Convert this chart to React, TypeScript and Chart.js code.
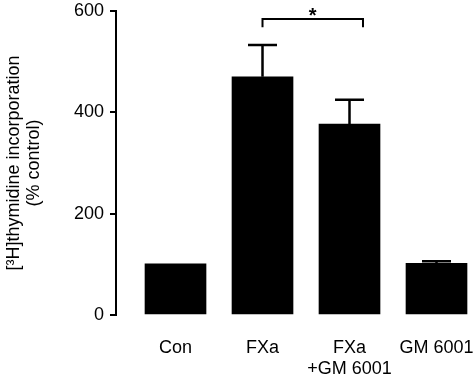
import { useEffect, useRef } from "react";
import { Chart, registerables } from "chart.js";

Chart.register(...registerables);

// ---- data ----
const categories: (string | string[])[] = ["Con", "FXa", ["FXa", "+GM 6001"], "GM 6001"];
const means = [101, 470, 377, 102];
const errors = [0, 63, 48, 4];
const yTicks = [0, 200, 400, 600];
const yTitle = ["[³H]thymidine incorporation", "(% control)"];
// significance bracket: from category position to position, at value, with drop
const bracketFrom = 2;
const bracketTo = 3.155;
const bracketValue = 584;
const bracketDropValue = 568;
const bracketLabel = "*";

const FONT = "'Liberation Sans', Arial, Helvetica, sans-serif";

const overlayPlugin = {
  id: "overlay",
  afterDatasetsDraw(chart: any) {
    const { ctx } = chart;
    const x = chart.scales.x;
    const y = chart.scales.y;
    ctx.save();
    ctx.strokeStyle = "#000";
    ctx.fillStyle = "#000";
    ctx.lineWidth = 2.5;
    ctx.lineCap = "butt";
    means.forEach((m, i) => {
      const e = errors[i];
      if (!e) return;
      const cx = x.getPixelForValue(i + 1);
      const top = y.getPixelForValue(m + e);
      const base = y.getPixelForValue(m);
      ctx.beginPath();
      ctx.moveTo(cx, base);
      ctx.lineTo(cx, top);
      ctx.moveTo(cx - 14.5, top);
      ctx.lineTo(cx + 14.5, top);
      ctx.stroke();
    });
    // bracket
    const x1 = x.getPixelForValue(bracketFrom);
    const x2 = x.getPixelForValue(bracketTo);
    const by = y.getPixelForValue(bracketValue);
    const bd = y.getPixelForValue(bracketDropValue);
    ctx.lineWidth = 2;
    ctx.beginPath();
    ctx.moveTo(x1, bd);
    ctx.lineTo(x1, by);
    ctx.lineTo(x2, by);
    ctx.lineTo(x2, bd);
    ctx.stroke();
    ctx.font = `bold 20px ${FONT}`;
    ctx.textAlign = "center";
    ctx.textBaseline = "alphabetic";
    ctx.fillText(bracketLabel, (x1 + x2) / 2, by + 2.5);
    ctx.restore();
  },
};

export default function App() {
  const ref = useRef<HTMLCanvasElement | null>(null);

  useEffect(() => {
    document.body.style.margin = "0";
    if (!ref.current) return;
    Chart.defaults.font.family = FONT;
    Chart.defaults.color = "#000";
    const chart = new Chart(ref.current, {
      type: "bar",
      data: {
        datasets: [
          {
            data: means.map((v, i) => ({ x: i + 1, y: v })) as any,
            backgroundColor: "#000",
            borderWidth: 0,
            barThickness: 61,
          },
        ],
      },
      options: {
        animation: false,
        responsive: true,
        maintainAspectRatio: false,
        layout: { padding: { top: 11, right: 0, bottom: 0, left: 0 } },
        plugins: {
          legend: { display: false },
          tooltip: { enabled: false },
        },
        scales: {
          x: {
            type: "linear",
            offset: false,
            min: 0.316,
            max: 4.431,
            grid: { display: false, drawTicks: false, offset: false },
            border: { display: false },
            afterBuildTicks: (scale: any) => {
              scale.ticks = categories.map((_, i) => ({ value: i + 1 }));
            },
            afterFit: (scale: any) => {
              scale.height = 61;
              scale.paddingLeft = 0;
              scale.paddingRight = 0;
            },
            ticks: {
              autoSkip: false,
              maxRotation: 0,
              padding: 22,
              color: "#000",
              font: { size: 18, family: FONT, lineHeight: 1.2 },
              callback: (value: any) => categories[Number(value) - 1] as any,
            },
          },
          y: {
            min: 0,
            max: 600,
            afterBuildTicks: (scale: any) => {
              scale.ticks = yTicks.map((v) => ({ value: v }));
            },
            afterFit: (scale: any) => {
              scale.width = 116;
              scale.paddingTop = 0;
              scale.paddingBottom = 0;
            },
            grid: {
              display: true,
              drawOnChartArea: false,
              drawTicks: true,
              tickLength: 6,
              color: "#000",
              lineWidth: 2,
            },
            border: { display: true, color: "#000", width: 2 },
            ticks: {
              padding: 6,
              color: "#000",
              font: { size: 18, family: FONT },
            },
            title: {
              display: true,
              text: yTitle,
              color: "#000",
              font: { size: 18, family: FONT, lineHeight: 1.1 },
              padding: { top: 4.6, bottom: 0 },
            },
          },
        },
      },
      plugins: [overlayPlugin],
    });
    return () => chart.destroy();
  }, []);

  return (
    <div style={{ width: 474, height: 376, position: "relative" }}>
      <canvas ref={ref} />
    </div>
  );
}
